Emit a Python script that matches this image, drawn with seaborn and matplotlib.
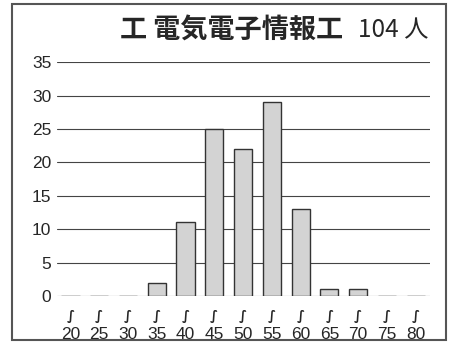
import numpy as np
import pandas as pd
import matplotlib
matplotlib.use("Agg")
import matplotlib.pyplot as plt
import matplotlib.patches as patches
import seaborn as sns

# data: score bins and number of students
bins = ["20", "25", "30", "35", "40", "45", "50", "55", "60", "65", "70", "75", "80"]
counts = [0, 0, 0, 2, 11, 25, 22, 29, 13, 1, 1, 0, 0]
yticks = [0, 5, 10, 15, 20, 25, 30, 35]
title_main = "工 電気電子情報工"
title_sub = "104 人"

sns.set_style("white")
plt.rcParams['font.family'] = ['Noto Sans CJK JP', 'DejaVu Sans']

fig = plt.figure(figsize=(4.59, 3.53), dpi=100)
ax = fig.add_axes([0.124, 0.1615, 0.813, 0.6625])

df = pd.DataFrame({"bin": bins, "count": counts})
sns.barplot(data=df, x="bin", y="count", color="#d3d3d3", edgecolor="#333333",
            linewidth=1.0, width=0.63, saturation=1, ax=ax, zorder=3)

ax.set_ylim(0, 35)
ax.set_xlim(-0.47, 12.5)
ax.set_yticks(yticks)
ax.set_xticks(range(len(bins)))
ax.yaxis.grid(True, color="#444444", linewidth=0.8, zorder=0)
ax.set_axisbelow(True)
ax.tick_params(axis="y", length=0, pad=4, labelsize=12.5)
ax.tick_params(axis="x", length=0, pad=22, labelsize=12.5)
ax.set_xticklabels(bins)
ax.set_yticklabels([str(v) for v in yticks])
for lab in ax.get_xticklabels() + ax.get_yticklabels():
    lab.set_family("Liberation Sans")
    lab.set_fontsize(12.5)
ax.set_xlabel("")
ax.set_ylabel("")
for s in ax.spines.values():
    s.set_visible(False)

# wave mark (〜 written vertically) above each bin label
trans = matplotlib.transforms.blended_transform_factory(ax.transData, ax.transAxes)
for i in range(len(bins)):
    ax.text(i, -0.088, "∫", ha="center", va="center",
            fontsize=9.5, family="DejaVu Sans", fontweight="bold",
            transform=trans, clip_on=False)

# title
fig.text(0.934, 0.915, title_sub, ha="right", va="center", fontsize=17.5)
fig.text(0.748, 0.915, title_main, ha="right", va="center", fontsize=19.5, fontweight="bold")

# outer frame
fig.patches.append(patches.Rectangle((12 / 459, 1 - 340 / 353), 434 / 459, 336 / 353,
                                     transform=fig.transFigure, fill=False,
                                     edgecolor="#555555", linewidth=1.5))

fig.savefig("out.png", dpi=100)
